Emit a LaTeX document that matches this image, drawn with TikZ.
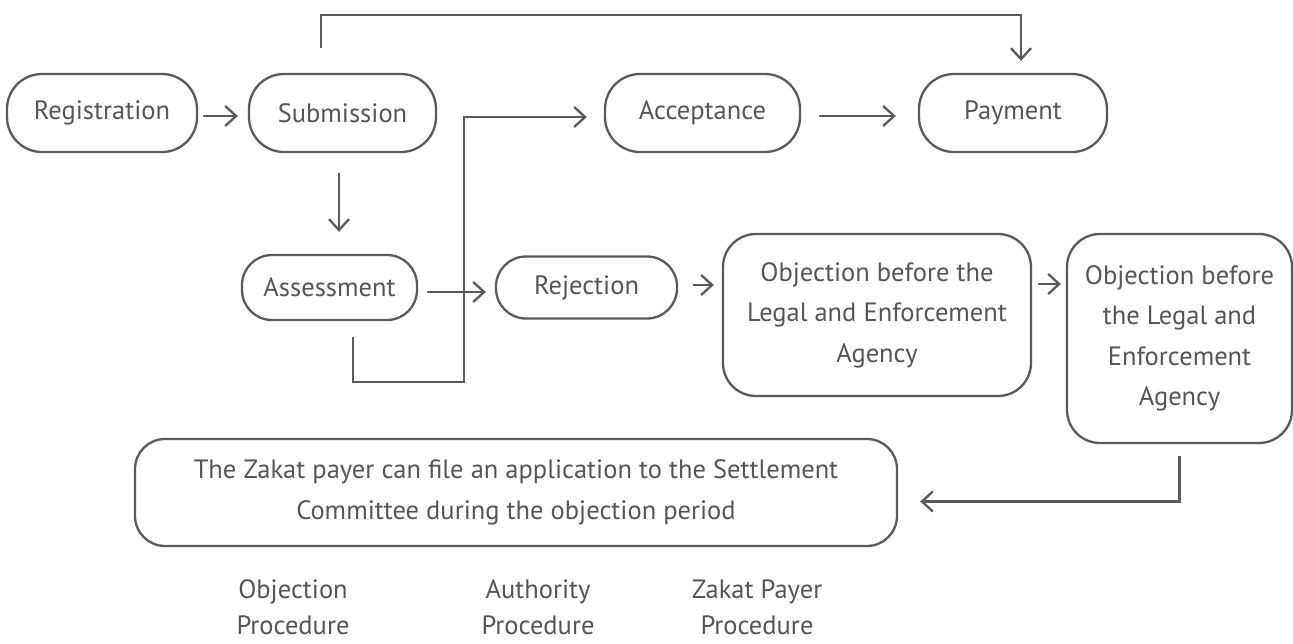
\documentclass[tikz,border=0pt]{standalone}
\usepackage{fontspec}
\setmainfont{PT Sans}
\usetikzlibrary{arrows.meta}
\definecolor{ln}{HTML}{5A5A5A}
\definecolor{tx}{HTML}{555555}
\begin{document}
\begin{tikzpicture}[x=1pt,y=-1pt,
  box/.style={draw=ln,line width=2.3pt,rectangle,inner sep=0pt,align=center,text=tx,
    font=\fontsize{26.5}{40.5}\selectfont},
  pill/.style={box,rounded corners=35pt},
  pills/.style={box,rounded corners=30pt},
  rbox/.style={box,rounded corners=33pt},
  lbl/.style={text=tx,align=center,font=\fontsize{26.5}{36}\selectfont,inner sep=0pt},
  arr/.style={draw=ln,line width=2.3pt,-{Straight Barb[length=11pt,width=20pt]}},
  ln/.style={draw=ln,line width=2.3pt}]
\useasboundingbox (0,0) rectangle (1293,643);
\node[pill,minimum width=190pt,minimum height=78pt] (reg) at (102,113) {Registration};
\node[pill,minimum width=187pt,minimum height=78pt] (sub) at (342.5,113) {Submission};
\node[pill,minimum width=195pt,minimum height=78pt] (acc) at (702.5,113) {Acceptance};
\node[pill,minimum width=188pt,minimum height=78pt] (pay) at (1013,113) {Payment};
\node[pills,minimum width=175pt,minimum height=65pt] (ass) at (329.5,287.5) {Assessment};
\node[pills,minimum width=181pt,minimum height=62pt] (rej) at (586.5,287.5) {Rejection};
\node[rbox,minimum width=308pt,minimum height=162pt] (ob1) at (877,315) {Objection before the\\Legal and Enforcement\\Agency};
\node[rbox,minimum width=225pt,minimum height=209pt] (ob2) at (1179.5,338.5) {Objection before\\the Legal and\\Enforcement\\Agency};
\node[box,rounded corners=30pt,minimum width=762pt,minimum height=107pt] (set) at (516,492.5) {The Zakat payer can file an application to the Settlement\\Committee during the objection period};
\node[lbl] (l1) at (293,607) {Objection\\Procedure};
\node[lbl] (l2) at (538,607) {Authority\\Procedure};
\node[lbl] (l3) at (757,607) {Zakat Payer\\Procedure};
% connectors
\draw[arr] ([xshift=5pt,yshift=-3pt]reg.east) -- ([xshift=-10pt,yshift=-3pt]sub.west);
\draw[arr] ([xshift=-21.5pt,yshift=25pt]sub.north) |- (1021,15) -- ([xshift=8pt,yshift=12pt]pay.north);
\draw[arr] ([xshift=-3.5pt,yshift=-20pt]sub.south) -- ([xshift=9.5pt,yshift=22pt]ass.north);
\draw[arr] ([xshift=9pt,yshift=-4.5pt]ass.east) -- ([xshift=-9pt,yshift=-4.5pt]rej.west);
\coordinate (lp) at (464,382);
\draw[arr] ([xshift=23.5pt,yshift=-16pt]ass.south) |- (lp) |- ([xshift=-17pt,yshift=-4pt]acc.west);
\draw[arr] ([xshift=18pt,yshift=-3pt]acc.east) -- ([xshift=-22pt,yshift=-3pt]pay.west);
\draw[arr] ([xshift=15pt,yshift=2.5pt]rej.east) -- ([xshift=-8pt,yshift=30pt]ob1.west);
\draw[arr] ([xshift=6pt,yshift=31pt]ob1.east) -- ([xshift=-5pt,yshift=54.5pt]ob2.west);
\draw[arr] ([yshift=-12pt]ob2.south) |- ([xshift=22pt,yshift=-9pt]set.east);
\end{tikzpicture}
\end{document}
